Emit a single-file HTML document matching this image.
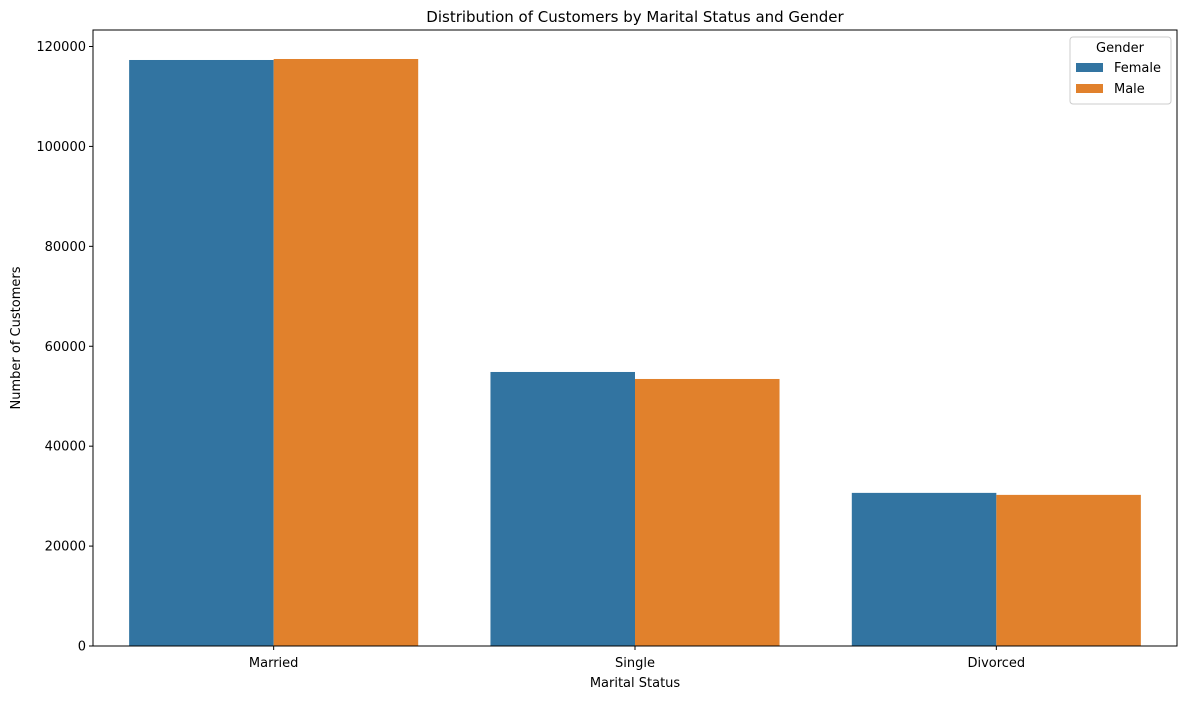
<!DOCTYPE html>
<html><head><meta charset="utf-8"><style>
body{margin:0;background:#fff;font-family:"Liberation Sans","DejaVu Sans",sans-serif;}
svg text{font-family:"DejaVu Sans","Liberation Sans",sans-serif;fill:#000;}
</style></head><body>
<svg id="chart" width="1187" height="699"></svg>
<script>
const categories=["Married","Single","Divorced"];
const femaleValues=[117300,54850,30650];
const maleValues=[117500,53450,30250];
const yTicks=[0,20000,40000,60000,80000,100000,120000];
const seriesNames=["Female","Male"];
const colors=["#3274a1","#e1812c"];
const NS="http://www.w3.org/2000/svg";
const svg=document.getElementById("chart");
const L=93,R=1177,T=30,B=646,YMAX=123300;
const y=v=>B-(v/120000)*(B-46.5);
const band=(R-L)/categories.length;
const x=i=>L+band*(i+0.5);
function mk(tag,attrs,parent){const e=document.createElementNS(NS,tag);for(const k in attrs)e.setAttribute(k,attrs[k]);(parent||svg).appendChild(e);return e;}
const series=[femaleValues,maleValues];
const bw=band*0.8/2;
series.forEach((vals,s)=>{vals.forEach((v,i)=>{
 const r=mk("rect",{x:x(i)-band*0.4+s*bw,y:y(v),width:bw,height:B-y(v),fill:colors[s]});
 
 
});});
const frame=mk("rect",{x:L,y:T,width:R-L,height:B-T,fill:"none",stroke:"#000","stroke-width":1});


yTicks.forEach(t=>{
 mk("line",{x1:L-4,x2:L,y1:y(t),y2:y(t),stroke:"#000"});
 const tx=mk("text",{x:L-7,y:y(t)+4.5,"text-anchor":"end","font-size":"13"});tx.textContent=t;
 
 
});
categories.forEach((c,i)=>{
 mk("line",{x1:x(i),x2:x(i),y1:B,y2:B+4,stroke:"#000"});
 const tx=mk("text",{x:x(i),y:B+21,"text-anchor":"middle","font-size":"13"});tx.textContent=c;
 
 
});
const title=mk("text",{x:(L+R)/2,y:22,"text-anchor":"middle","font-size":"15"});title.textContent="Distribution of Customers by Marital Status and Gender";


const xt=mk("text",{x:(L+R)/2,y:687,"text-anchor":"middle","font-size":"13"});xt.textContent="Marital Status";


const yt=mk("text",{x:20,y:(T+B)/2,"text-anchor":"middle","font-size":"13",transform:"rotate(-90 20 "+(T+B)/2+")"});yt.textContent="Number of Customers";


const lg=mk("g",{});


mk("rect",{x:1070,y:37,width:101,height:67,rx:3,fill:"#fff",stroke:"#ccc"},lg);
const lt=mk("text",{x:1120,y:52,"text-anchor":"middle","font-size":"13"},lg);lt.textContent="Gender";
seriesNames.forEach((n,s)=>{
 const g=mk("g",{},lg);
 
 
 mk("rect",{x:1076,y:63+s*21,width:27,height:9,fill:colors[s]},g);
 const t=mk("text",{x:1114,y:72+s*21,"font-size":"13"},g);t.textContent=n;
});
</script>
</body></html>
